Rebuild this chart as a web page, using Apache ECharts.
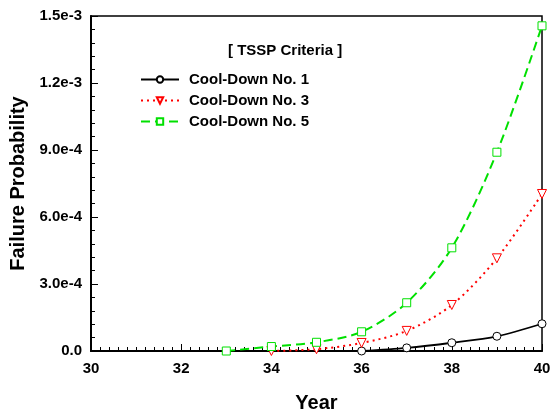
<!DOCTYPE html>
<html><head><meta charset="utf-8">
<script src="https://cdn.jsdelivr.net/npm/echarts@6/dist/echarts.min.js"></script>
<style>html,body{margin:0;padding:0;background:#fff}#c{width:552px;height:414px}</style>
</head><body><div id="c"></div>
<script>
const years1 = [36, 37, 38, 39, 40];
const cool1 = [0, 1.4e-5, 3.7e-5, 6.6e-5, 1.22e-4];
const years3 = [34, 35, 36, 37, 38, 39, 40];
const cool3 = [0, 8e-6, 3.6e-5, 9.0e-5, 2.06e-4, 4.15e-4, 7.03e-4];
const years5 = [33, 34, 35, 36, 37, 38, 39, 40];
const cool5 = [0, 2.0e-5, 3.9e-5, 8.6e-5, 2.16e-4, 4.62e-4, 8.9e-4, 1.456e-3];
const yTickLabels = {0: '0.0', 3: '3.0e-4', 6: '6.0e-4', 9: '9.0e-4', 12: '1.2e-3', 15: '1.5e-3'};
const seriesNames = ['Cool-Down No. 1', 'Cool-Down No. 3', 'Cool-Down No. 5'];

const zip = (a, b) => a.map((v, i) => [v, b[i]]);
const FONT = 'Liberation Sans, Arial, sans-serif';
const chart = echarts.init(document.getElementById('c'));
chart.setOption({
  animation: false,
  backgroundColor: '#fff',
  grid: {left: 91, right: 10, top: 16, bottom: 63, outerBoundsMode: 'none', containLabel: false,
         show: true, borderColor: '#000', borderWidth: 1.5, backgroundColor: 'transparent'},
  title: {text: '[ TSSP Criteria ]', left: 228, top: 43, padding: 0, textStyle: {fontFamily: FONT, fontWeight: 'bold', fontSize: 15, color: '#000'}},
  legend: {
    orient: 'vertical', left: 140, top: 72, padding: 0, itemGap: 6, itemWidth: 38, itemHeight: 8,
    textStyle: {fontFamily: FONT, fontWeight: 'bold', fontSize: 15, color: '#000', padding: [0, 0, 0, 5]},
    data: seriesNames
  },
  xAxis: {
    type: 'value', min: 30, max: 40, interval: 2,
    name: 'Year', nameLocation: 'middle', nameGap: 42,
    nameTextStyle: {fontFamily: FONT, fontWeight: 'bold', fontSize: 20, color: '#000'},
    axisLine: {lineStyle: {color: '#000', width: 2}},
    axisTick: {inside: true, length: 7, lineStyle: {color: '#000', width: 1}},
    minorTick: {show: true, splitNumber: 10, length: 4, lineStyle: {color: '#000', width: 1}},
    splitLine: {show: false},
    axisLabel: {fontFamily: FONT, fontWeight: 'bold', fontSize: 15, color: '#000', margin: 10}
  },
  yAxis: {
    type: 'value', min: 0, max: 1.5e-3, interval: 3e-4,
    name: 'Failure Probability', nameLocation: 'middle', nameGap: 61,
    nameTextStyle: {fontFamily: FONT, fontWeight: 'bold', fontSize: 20, color: '#000'},
    axisLine: {lineStyle: {color: '#000', width: 2}},
    axisTick: {inside: true, length: 7, lineStyle: {color: '#000', width: 1}},
    minorTick: {show: true, splitNumber: 5, length: 4, lineStyle: {color: '#000', width: 1}},
    splitLine: {show: false},
    axisLabel: {fontFamily: FONT, fontWeight: 'bold', fontSize: 15, color: '#000', margin: 9,
      formatter: v => yTickLabels[Math.round(v * 1e4)] || ''}
  },
  series: [
    {name: seriesNames[0], type: 'line', data: zip(years1, cool1), smooth: 0.3,
     symbol: 'circle', symbolSize: 8, showAllSymbol: true,
     lineStyle: {color: '#000', width: 1.8, type: 'solid'},
     itemStyle: {color: '#fff', borderColor: '#000', borderWidth: 1}},
    {name: seriesNames[1], type: 'line', data: zip(years3, cool3), smooth: 0.3,
     symbol: 'triangle', symbolRotate: 180, symbolSize: 9,
     lineStyle: {color: '#ff0000', width: 2, type: [2, 4]},
     itemStyle: {color: '#fff', borderColor: '#ff0000', borderWidth: 1}},
    {name: seriesNames[2], type: 'line', data: zip(years5, cool5), smooth: 0.3,
     symbol: 'rect', symbolSize: 8,
     lineStyle: {color: '#00e000', width: 2, type: [9, 5]},
     itemStyle: {color: '#fff', borderColor: '#00e000', borderWidth: 1}}
  ]
});
</script></body></html>
